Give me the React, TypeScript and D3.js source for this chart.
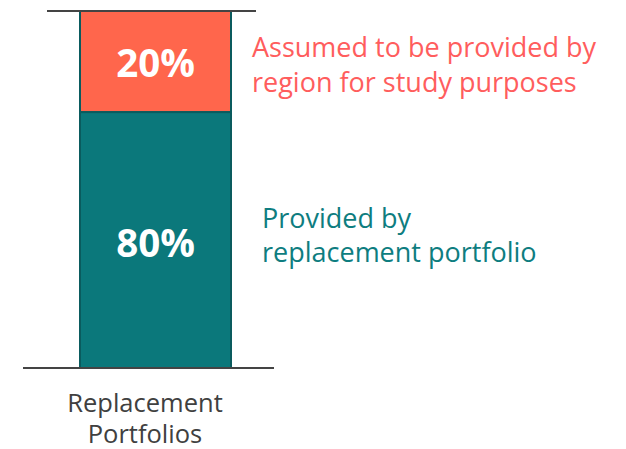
import React, { useEffect, useRef } from "react";
import * as d3 from "d3";

// stacked segments of the single bar, bottom to top (heights as drawn, labels as printed)
const segments = ["Replacement portfolio", "Region"];
const heights = [71.7, 28.3];
const pctLabels = ["80%", "20%"];
const segmentColors = ["#0b787b", "#ff664c"];
const notes = [
    ["Provided by", "replacement portfolio"],
    ["Assumed to be provided by", "region for study purposes"],
];
const noteColors = ["#0e7d80", "#ff5d5d"];
const categoryLabel = ["Replacement", "Portfolios"];

const App: React.FC = () => {
    const svgRef = useRef<SVGSVGElement>(null);

    useEffect(() => {
        const width = 626;
        const height = 449;
        const svg = d3.select(svgRef.current)
            .attr("width", width)
            .attr("height", height)
            .style("font-family", "'Open Sans', sans-serif");

        svg.selectAll("*").remove();

        const y = d3.scaleLinear().domain([0, 100]).range([368, 11]);
        const x = d3.scaleBand().domain(["Replacement Portfolios"]).range([80, 231]).padding(0);

        let acc = 0;
        const stacked = heights.map((v, i) => {
            const s = { name: segments[i], y0: acc, y1: acc + v, label: pctLabels[i], color: segmentColors[i] };
            acc += v;
            return s;
        });

        const bw = x.bandwidth();
        const x0 = x("Replacement Portfolios")!;

        svg.selectAll("rect.seg")
            .data(stacked)
            .join("rect")
            .attr("class", "seg")
            .attr("x", x0)
            .attr("y", d => y(d.y1))
            .attr("width", bw)
            .attr("height", d => y(d.y0) - y(d.y1))
            .attr("fill", d => d.color)
            .attr("stroke", "#0a5b5e")
            .attr("stroke-width", 2);

        svg.selectAll("text.pct")
            .data(stacked)
            .join("text")
            .attr("class", "pct")
            .attr("x", x0 + bw / 2)
            .attr("y", d => y((d.y0 + d.y1) / 2))
            .attr("dy", (d, i) => (i === 0 ? 17 : 15.5))
            .attr("text-anchor", "middle")
            .attr("fill", "#fff")
            .style("font-weight", "bold")
            .style("font-size", "38.5px")
            .text(d => d.label);

        // top and bottom rules
        svg.append("line")
            .attr("x1", 47).attr("x2", 256)
            .attr("y1", y(100)).attr("y2", y(100))
            .attr("stroke", "#444").attr("stroke-width", 2);
        svg.append("line")
            .attr("x1", 23).attr("x2", 274)
            .attr("y1", y(0)).attr("y2", y(0))
            .attr("stroke", "#444").attr("stroke-width", 2);

        // notes beside each segment
        stacked.forEach((d, i) => {
            const mid = y((d.y0 + d.y1) / 2);
            const nx = i === 0 ? 262 : 252;
            const t = svg.append("text")
                .attr("fill", noteColors[i])
                .style("font-size", "27px");
            notes[i].forEach((line, j) => {
                t.append("tspan")
                    .attr("x", nx)
                    .attr("y", mid + (i === 0 ? -12.5 + j * 34 : -4.5 + j * 35))
                    .text(line);
            });
        });

        svg.selectAll("text.cat")
            .data(categoryLabel)
            .join("text")
            .attr("class", "cat")
            .attr("x", 145)
            .attr("y", (d, i) => 412 + i * 31)
            .attr("text-anchor", "middle")
            .attr("fill", "#404040")
            .style("font-size", "25.5px")
            .text(d => d);
    }, []);

    return <svg ref={svgRef} style={{ position: "absolute", left: 0, top: 0 }}></svg>;
};

export default App;
